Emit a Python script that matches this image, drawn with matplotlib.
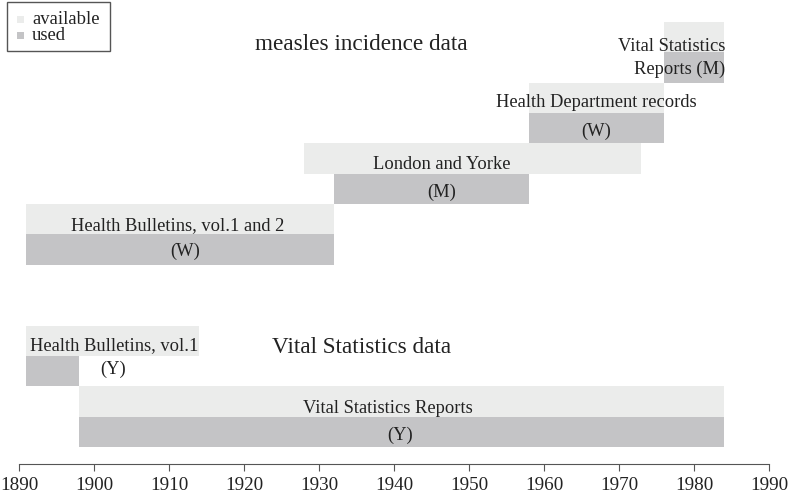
import matplotlib
matplotlib.use("Agg")
from matplotlib import pyplot as plt
from matplotlib.patches import Rectangle

plt.rcParams["font.family"] = ["Liberation Serif", "DejaVu Serif"]

# sources: available span, used span, row of the "used" bar
names = ["Vital Statistics\nReports (M)", "Health Department records", "London and Yorke",
         "Health Bulletins, vol.1 and 2", "Health Bulletins, vol.1", "Vital Statistics Reports"]
avail_start = [1976, 1958, 1928, 1891, 1891, 1898]
avail_end = [1984, 1976, 1973, 1932, 1914, 1984]
used_start = [1976, 1958, 1932, 1891, 1891, 1898]
used_end = [1984, 1976, 1958, 1932, 1898, 1984]
codes = ["", "(W)", "(M)", "(W)", "(Y)", "(Y)"]
rows = [12, 10, 8, 6, 2, 0]
legend_labels = ["available", "used"]

c_avail = "#ebeceb"
c_used = "#c4c4c6"
tc = "#222222"

W, H = 788, 495
fig = plt.figure(figsize=(W / 100, H / 100), dpi=100)
ax = fig.add_axes([19 / W, 31 / H, 750 / W, 464 / H])

for a0, a1, u0, u1, r in zip(avail_start, avail_end, used_start, used_end, rows):
    ax.barh(r + 1, a1 - a0, left=a0, height=1, align="edge", color=c_avail)
    ax.barh(r, u1 - u0, left=u0, height=1, align="edge", color=c_used)

fs = 13.3
# labels
ax.text(1984.2, 12.82, names[0], ha="right", va="center", fontsize=fs, linespacing=1.45, color=tc)
ax.text(1967, 11.33, names[1], ha="center", va="center", fontsize=fs, color=tc)
ax.text(1967, 10.4, codes[1], ha="center", va="center", fontsize=fs, color=tc)
ax.text(1946.4, 9.3, names[2], ha="center", va="center", fontsize=fs, color=tc)
ax.text(1946.4, 8.4, codes[2], ha="center", va="center", fontsize=fs, color=tc)
ax.text(1911.2, 7.3, names[3], ha="center", va="center", fontsize=fs, color=tc)
ax.text(1912.2, 6.45, codes[3], ha="center", va="center", fontsize=fs, color=tc)
ax.text(1902.7, 3.33, names[4], ha="center", va="center", fontsize=fs, color=tc)
ax.text(1902.5, 2.57, codes[4], ha="center", va="center", fontsize=fs, color=tc)
ax.text(1939.2, 1.27, names[5], ha="center", va="center", fontsize=fs, color=tc)
ax.text(1940.8, 0.4, codes[5], ha="center", va="center", fontsize=fs, color=tc)

ax.text(1935.7, 13.25, "measles incidence data", ha="center", va="center", fontsize=16.7, color=tc)
ax.text(1935.7, 3.28, "Vital Statistics data", ha="center", va="center", fontsize=16.7, color=tc)

ax.set_xlim(1890, 1990)
ax.set_ylim(-0.56, 14.72)
ax.set_xticks(range(1890, 1991, 10))
ax.set_yticks([])
for s in ["top", "left", "right"]:
    ax.spines[s].set_visible(False)
ax.spines["bottom"].set_color("#555")
ax.tick_params(axis="x", direction="out", length=5, color="#555", labelsize=13.8, labelcolor=tc, pad=4)

# legend box drawn in figure pixels
fig.patches.append(Rectangle((7 / W, 1 - 51 / H), 103 / W, 49 / H, transform=fig.transFigure,
                             facecolor="white", edgecolor="#555", linewidth=1))
for lab, col, yc in zip(legend_labels, [c_avail, c_used], [19, 35]):
    fig.patches.append(Rectangle((17 / W, 1 - (yc + 3.5) / H), 7 / W, 7 / H,
                                 transform=fig.transFigure, facecolor=col, edgecolor="none"))
    fig.text(32 / W, 1 - (yc + 1) / H, lab, ha="left", va="center", fontsize=13.4, color=tc)

fig.savefig("out.png", dpi=100)
